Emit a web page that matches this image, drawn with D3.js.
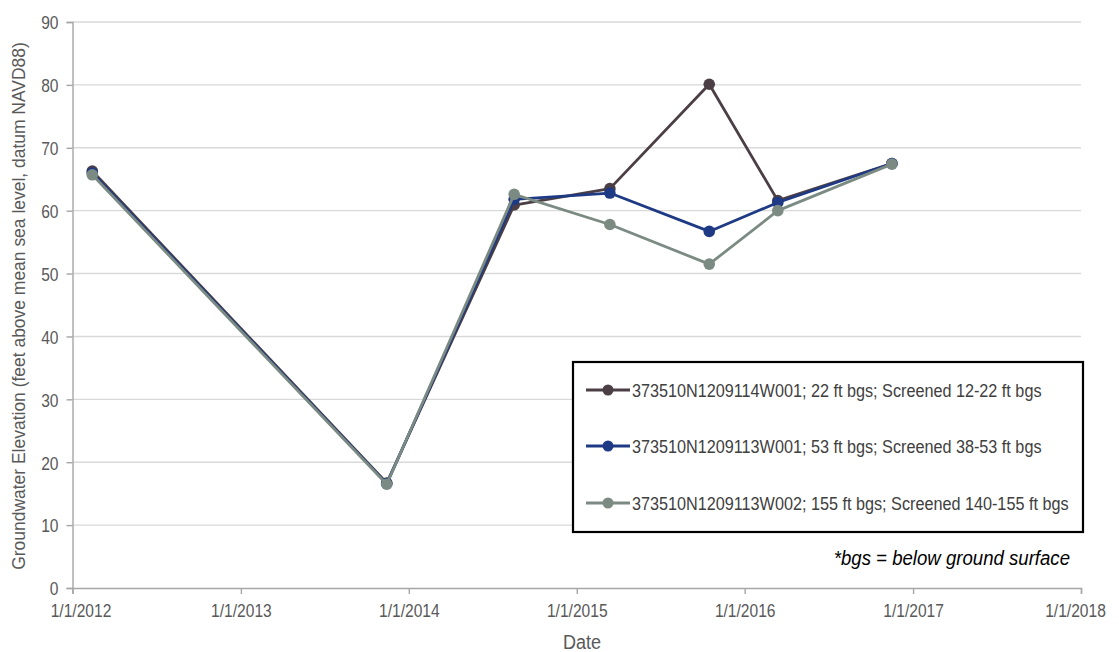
<!DOCTYPE html>
<html><head><meta charset="utf-8">
<script src="https://cdn.jsdelivr.net/npm/d3@7"></script>
<style>
html,body{margin:0;padding:0;background:#fff;}
svg{display:block;font-family:"Liberation Sans",Arial,sans-serif;}
</style></head><body>
<svg id="c" width="1119" height="652"></svg>
<script>
const dates = ["2012-02-13","2013-11-14","2014-08-18","2015-03-14","2015-10-16","2016-03-13","2016-11-16"];
const seriesNames = [
  "373510N1209114W001; 22 ft bgs; Screened 12-22 ft bgs",
  "373510N1209113W001; 53 ft bgs; Screened 38-53 ft bgs",
  "373510N1209113W002; 155 ft bgs; Screened 140-155 ft bgs"
];
const well22 = [66.3, 16.7, 60.9, 63.5, 80.1, 61.6, 67.5];
const well53 = [66.0, 16.6, 61.8, 62.8, 56.7, 61.3, 67.5];
const well155 = [65.7, 16.5, 62.6, 57.8, 51.5, 60.0, 67.4];
const colors = ["#4b3e44", "#1e3a84", "#7b8b83"];
const yTicks = [0,10,20,30,40,50,60,70,80,90];
const xTickDates = ["2012-01-01","2013-01-01","2014-01-01","2015-01-01","2016-01-01","2017-01-01","2018-01-01"];
const xTickLabels = ["1/1/2012","1/1/2013","1/1/2014","1/1/2015","1/1/2016","1/1/2017","1/1/2018"];
const yTitle = "Groundwater Elevation (feet above mean sea level, datum NAVD88)";
const xTitle = "Date";
const note = "*bgs = below ground surface";

const svg = d3.select("#c");
const parse = d3.utcParse("%Y-%m-%d");
const x = d3.scaleUtc().domain([parse("2012-01-01"), parse("2018-01-01")]).range([72.5, 1081]);
const y = d3.scaleLinear().domain([0, 90]).range([588, 22]);

function condense(sel, ratio) {
  sel.each(function(){
    const w = this.getComputedTextLength();
    d3.select(this).attr("textLength", w*ratio).attr("lengthAdjust","spacingAndGlyphs");
  });
}

// gridlines
svg.append("g").selectAll("line").data(yTicks.filter(d=>d>0)).join("line")
  .attr("x1", 72.5).attr("x2", 1081)
  .attr("y1", d=>y(d)).attr("y2", d=>y(d))
  .attr("stroke", "#d9d9d9").attr("stroke-width", 1.4);

// y axis
const ya = svg.append("g").attr("transform","translate(72.5,0)")
  .call(d3.axisLeft(y).tickValues(yTicks).tickSize(6).tickPadding(8).tickFormat(d3.format("d")));
ya.select(".domain").attr("stroke","#a6a6a6").attr("stroke-width",1.4);
ya.selectAll(".tick line").attr("stroke","#a6a6a6").attr("stroke-width",1.4);
ya.selectAll(".tick text").attr("fill","#595959").style("font-size","19px")
  .style("font-family","'Liberation Sans',Arial,sans-serif").attr("dy","0.36em");
condense(ya.selectAll(".tick text"), 0.82);

// x axis
const xa = svg.append("g").attr("transform","translate(0,588)")
  .call(d3.axisBottom(x).tickValues(xTickDates.map(parse)).tickSize(6).tickPadding(9)
    .tickFormat((d,i)=>xTickLabels[i]));
xa.select(".domain").attr("stroke","#a6a6a6").attr("stroke-width",1.4);
xa.selectAll(".tick line").attr("stroke","#a6a6a6").attr("stroke-width",1.4);
const xLabelShift = [8,0,0,0,0,0,-6];
xa.selectAll(".tick text").attr("fill","#595959").style("font-size","19px")
  .style("font-family","'Liberation Sans',Arial,sans-serif").attr("dy","0.75em")
  .attr("transform",(d,i)=>`translate(${xLabelShift[i]},0) scale(0.82,1)`);

// titles
const yt = svg.append("text").attr("transform","translate(24.5,306) rotate(-90)")
  .attr("text-anchor","middle").attr("fill","#595959").style("font-size","18px").text(yTitle);
condense(yt, 0.97);
const xt = svg.append("text").attr("x",582).attr("y",649).attr("text-anchor","middle")
  .attr("fill","#595959").style("font-size","20px").text(xTitle);
condense(xt, 0.9);

// series
const allSeries = [well22, well53, well155];
const line = d3.line().x((d,i)=>x(parse(dates[i]))).y(d=>y(d));
[0,1,2].forEach(si=>{
  const vals = allSeries[si];
  const g = svg.append("g");
  g.append("path").datum(vals).attr("d", line)
    .attr("fill","none").attr("stroke", colors[si]).attr("stroke-width", 2.8).attr("stroke-linejoin","round");
  g.selectAll("circle").data(vals).join("circle")
    .attr("cx",(d,i)=>x(parse(dates[i]))).attr("cy",d=>y(d)).attr("r",5.8)
    .attr("fill", colors[si]);
});

// legend
const lg = svg.append("g");
lg.append("rect").attr("x",573).attr("y",362).attr("width",510).attr("height",170)
  .attr("fill","#fff").attr("stroke","#000").attr("stroke-width",2.2);
const rowY = [390, 446, 503];
seriesNames.forEach((n,i)=>{
  lg.append("line").attr("x1",586).attr("x2",630).attr("y1",rowY[i]).attr("y2",rowY[i])
    .attr("stroke",colors[i]).attr("stroke-width",2.8);
  lg.append("circle").attr("cx",608).attr("cy",rowY[i]).attr("r",5.5).attr("fill",colors[i]);
  const t = lg.append("text").attr("x",632).attr("y",rowY[i]+6.5).attr("fill","#404040")
    .style("font-size","18px").text(n);
  condense(t, 0.9);
});
const nt = svg.append("text").attr("x",1070).attr("y",565).attr("text-anchor","end")
  .attr("fill","#000").style("font-size","20px").style("font-style","italic").text(note);
condense(nt, 0.93);
</script>
</body></html>
